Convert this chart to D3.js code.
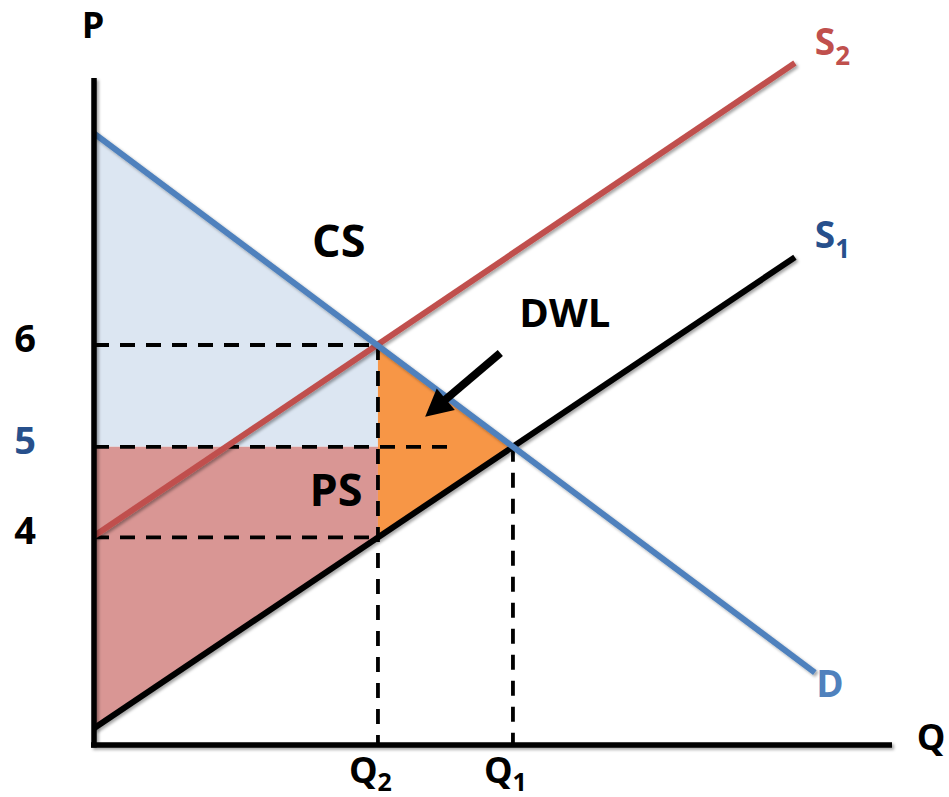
<!DOCTYPE html>
<html>
<head>
<meta charset="utf-8">
<script src="https://cdn.jsdelivr.net/npm/d3@7"></script>
<style>
  body { margin: 0; background: #fff; }
  svg { display: block; font-family: "Open Sans", "Noto Sans", sans-serif; font-weight: 700; }
</style>
</head>
<body>
<svg id="chart" width="949" height="797"></svg>
<script>
// DATA (abstract quantity / price units)

// endpoints of the three curves
const demand = [[0, 9.13], [10.84, 1.08]];
const supply1 = [[0, 0.25], [10.54, 7.28]];
const supply2 = [[0, 3.12], [10.54, 10.18]];

// quantities and prices marked on the axes
const qValues = { q2: 4.27, q1: 6.30 };
const pValues = { p6: 5.97, p5: 4.45, p4: 3.10 };

const priceTicks = [
  { label: "6", value: pValues.p6, color: "#000" },
  { label: "5", value: pValues.p5, color: "#27508c" },
  { label: "4", value: pValues.p4, color: "#000" }
];
const qTicks = [
  { label: "Q", sub: "2", value: qValues.q2 },
  { label: "Q", sub: "1", value: qValues.q1 }
];

// SCALES
const svg = d3.select("#chart");
const x = d3.scaleLinear().domain([0, 12]).range([94, 892]);
const y = d3.scaleLinear().domain([0, 10]).range([745, 75]);

const line = d3.line().x(d => x(d[0])).y(d => y(d[1]));

// soft drop shadow like the original drawing
const defs = svg.append("defs");
defs.append("filter")
  .attr("id", "shadow")
  .attr("x", "-10%").attr("y", "-10%")
  .attr("width", "130%").attr("height", "130%")
  .append("feDropShadow")
  .attr("dx", 2).attr("dy", 2)
  .attr("stdDeviation", 1.5)
  .attr("flood-color", "#000")
  .attr("flood-opacity", 0.35);

// AREAS
const csArea = [[0, demand[0][1]], [qValues.q2, pValues.p6], [qValues.q2, pValues.p5], [0, pValues.p5]];
const psArea = [[0, pValues.p5], [qValues.q2, pValues.p5], [qValues.q2, pValues.p4], [0, supply1[0][1]]];
const dwlArea = [[qValues.q2, pValues.p6], [qValues.q1, pValues.p5], [qValues.q2, pValues.p4]];

svg.append("path").attr("d", line(csArea) + "Z").attr("fill", "#dce6f2");
svg.append("path").attr("d", line(psArea) + "Z").attr("fill", "#d99694");
svg.append("path").attr("d", line(dwlArea) + "Z").attr("fill", "#f79646");

// DASHED GUIDES
const dashed = [
  [[0, pValues.p6], [qValues.q2, pValues.p6]],
  [[0, pValues.p5], [5.46, pValues.p5]],
  [[0, pValues.p4], [qValues.q2, pValues.p4]],
  [[qValues.q2, pValues.p6], [qValues.q2, 0]],
  [[qValues.q1, pValues.p5], [qValues.q1, 0]]
];
svg.selectAll(".guide")
  .data(dashed)
  .enter()
  .append("path")
  .attr("class", "guide")
  .attr("d", line)
  .attr("fill", "none")
  .attr("stroke", "#000")
  .attr("stroke-width", 3.8)
  .attr("stroke-dasharray", "15 11");

// CURVES
const curves = [
  { pts: supply2, color: "#c0504d" },
  { pts: supply1, color: "#000" },
  { pts: demand, color: "#4f81bd" }
];
svg.selectAll(".curve")
  .data(curves)
  .enter()
  .append("path")
  .attr("class", "curve")
  .attr("d", d => line(d.pts))
  .attr("fill", "none")
  .attr("stroke", d => d.color)
  .attr("stroke-width", 6)
  .attr("filter", "url(#shadow)");

// AXES
const axisG = svg.append("g").attr("filter", "url(#shadow)");
axisG.append("line")
  .attr("x1", x(0)).attr("x2", x(0))
  .attr("y1", y(0) + 2.5).attr("y2", y(10) + 3)
  .attr("stroke", "#000").attr("stroke-width", 5.5);
axisG.append("line")
  .attr("x1", x(0) - 3).attr("x2", x(12))
  .attr("y1", y(0)).attr("y2", y(0))
  .attr("stroke", "#000").attr("stroke-width", 5.5);

// ARROW pointing at the dead weight loss
const arrowFrom = [6.11, 5.85], arrowTo = [4.98, 4.90];
const ax1 = x(arrowFrom[0]), ay1 = y(arrowFrom[1]);
const ax2 = x(arrowTo[0]), ay2 = y(arrowTo[1]);
const ang = Math.atan2(ay2 - ay1, ax2 - ax1);
const headLen = 27, headHalf = 14;
const bx = ax2 - headLen * Math.cos(ang), by = ay2 - headLen * Math.sin(ang);
svg.append("line")
  .attr("x1", ax1).attr("y1", ay1)
  .attr("x2", bx + 3 * Math.cos(ang)).attr("y2", by + 3 * Math.sin(ang))
  .attr("stroke", "#000").attr("stroke-width", 8);
svg.append("path")
  .attr("d", `M${ax2},${ay2}L${bx - headHalf * Math.sin(ang)},${by + headHalf * Math.cos(ang)}L${bx + headHalf * Math.sin(ang)},${by - headHalf * Math.cos(ang)}Z`)
  .attr("fill", "#000");

// TEXT
svg.selectAll(".ptick")
  .data(priceTicks)
  .enter()
  .append("text")
  .attr("class", "ptick")
  .attr("x", 25)
  .attr("y", d => y(d.value) + 7)
  .attr("text-anchor", "middle")
  .attr("font-size", 38)
  .attr("fill", d => d.color)
  .text(d => d.label);

const qt = svg.selectAll(".qtick")
  .data(qTicks)
  .enter()
  .append("text")
  .attr("class", "qtick")
  .attr("x", d => x(d.value) - 29)
  .attr("y", 783)
  .attr("font-size", 36);
qt.append("tspan").text(d => d.label);
qt.append("tspan").attr("dy", 8).attr("font-size", 25).text(d => d.sub);

svg.append("text").attr("x", 93).attr("y", 38).attr("text-anchor", "middle")
  .attr("font-size", 36).text("P");
svg.append("text").attr("x", 931).attr("y", 750).attr("text-anchor", "middle")
  .attr("font-size", 36).text("Q");

// curve labels
const curveLabels = [
  { main: "S", sub: "2", at: [10.84, 10.30], color: "#c0504d" },
  { main: "S", sub: "1", at: [10.84, 7.42], color: "#27508c" },
  { main: "D", sub: "", at: [10.86, 0.71], color: "#4f81bd" }
];
const cl = svg.selectAll(".clabel")
  .data(curveLabels)
  .enter()
  .append("text")
  .attr("class", "clabel")
  .attr("x", d => x(d.at[0]))
  .attr("y", d => y(d.at[1]))
  .attr("font-size", 37)
  .attr("fill", d => d.color);
cl.append("tspan").text(d => d.main);
cl.append("tspan").attr("dy", 10).attr("font-size", 26).text(d => d.sub);

// area labels
const areaLabels = [
  { text: "CS", at: [3.68, 7.29], size: 45 },
  { text: "DWL", at: [7.08, 6.24], size: 40 },
  { text: "PS", at: [3.64, 3.56], size: 45 }
];
svg.selectAll(".alabel")
  .data(areaLabels)
  .enter()
  .append("text")
  .attr("class", "alabel")
  .attr("x", d => x(d.at[0]))
  .attr("y", d => y(d.at[1]))
  .attr("text-anchor", "middle")
  .attr("font-size", d => d.size)
  .text(d => d.text);
</script>
</body>
</html>
